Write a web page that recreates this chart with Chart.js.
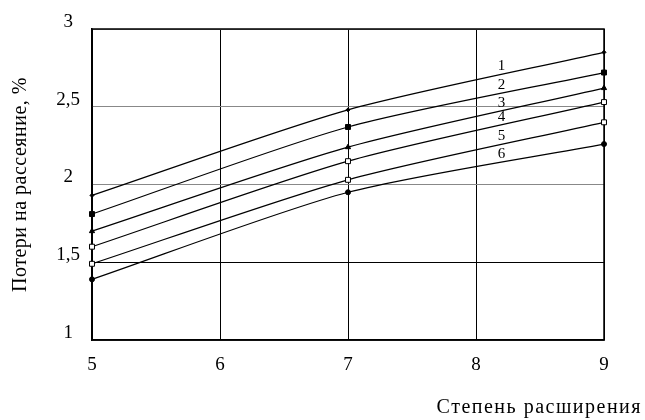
<!DOCTYPE html>
<html>
<head>
<meta charset="utf-8">
<script src="https://cdn.jsdelivr.net/npm/chart.js@4"></script>
<style>
  html, body { margin: 0; padding: 0; background: #fff; }
  #wrap { width: 645px; height: 420px; position: relative; }
</style>
</head>
<body>
<div id="wrap"><canvas id="loss-chart"></canvas></div>
<script>
// expansion ratio
const expansion = [5, 7, 9];
const seriesNames = ['1', '2', '3', '4', '5', '6'];
const loss1 = [1.93, 2.48, 2.85];
const loss2 = [1.81, 2.37, 2.72];
const loss3 = [1.70, 2.24, 2.62];
const loss4 = [1.60, 2.15, 2.53];
const loss5 = [1.49, 2.03, 2.40];
const loss6 = [1.39, 1.95, 2.26];
const yTicks = [1, 1.5, 2, 2.5, 3];
const xTicks = [5, 6, 7, 8, 9];

const allLoss = [loss1, loss2, loss3, loss4, loss5, loss6];
const markers = [
  { style: 'rectRot', r: 2, fill: '#000' },
  { style: 'rect', r: 3.5, fill: '#000' },
  { style: 'triangle', r: 3, fill: '#000' },
  { style: 'rect', r: 3.5, fill: '#fff' },
  { style: 'rect', r: 3.5, fill: '#fff' },
  { style: 'circle', r: 2.5, fill: '#000' }
];

const FONT = '"Liberation Serif", "Times New Roman", serif';

document.addEventListener('DOMContentLoaded', function() {
  const ctx = document.getElementById('loss-chart').getContext('2d');

  const datasets = allLoss.map(function(vals, i) {
    return {
      label: seriesNames[i],
      data: vals.map(function(v, j) { return { x: expansion[j], y: v }; }),
      borderColor: '#000',
      borderWidth: 1.2,
      tension: 0.25,
      pointStyle: markers[i].style,
      pointRadius: markers[i].r,
      pointBackgroundColor: markers[i].fill,
      pointBorderColor: '#000',
      pointBorderWidth: 1,
      clip: false
    };
  });

  // plot frame
  const framePlugin = {
    id: 'frame',
    beforeDatasetsDraw: function(chart) {
      const a = chart.chartArea, c = chart.ctx;
      c.save();
      c.strokeStyle = '#000';
      c.lineWidth = 1.5;
      c.strokeRect(a.left, a.top, a.right - a.left, a.bottom - a.top);
      c.restore();
    }
  };

  // numbers 1..6 over the lines, and the axis titles
  const labelsPlugin = {
    id: 'lineLabels',
    afterDraw: function(chart) {
      const c = chart.ctx;
      const xs = chart.scales.x, ys = chart.scales.y;
      c.save();
      c.fillStyle = '#000';
      c.font = '15px ' + FONT;
      c.textAlign = 'center';
      c.textBaseline = 'middle';
      const lx = 8.2;
      allLoss.forEach(function(vals, i) {
        const t = (lx - expansion[1]) / (expansion[2] - expansion[1]);
        const v = vals[1] + t * (vals[2] - vals[1]);
        c.fillText(seriesNames[i], xs.getPixelForValue(lx), ys.getPixelForValue(v) - 9);
      });

      c.font = '20px ' + FONT;
      c.textAlign = 'right';
      c.textBaseline = 'alphabetic';
      c.letterSpacing = '1.5px';
      c.fillText('Степень расширения', 642, 413);

      c.letterSpacing = '0.5px';
      c.textBaseline = 'middle';
      c.translate(21, (chart.chartArea.top + chart.chartArea.bottom) / 2);
      c.rotate(-Math.PI / 2);
      c.textAlign = 'center';
      c.fillText('Потери на рассеяние, %', 0, 0);
      c.restore();
    }
  };

  new Chart(ctx, {
    type: 'line',
    data: { datasets: datasets },
    plugins: [framePlugin, labelsPlugin],
    options: {
      responsive: true,
      maintainAspectRatio: false,
      animation: false,
      layout: { padding: { top: 29, right: 41, left: 0, bottom: 0 } },
      plugins: { legend: { display: false }, tooltip: { enabled: false } },
      scales: {
        x: {
          type: 'linear',
          min: 5,
          max: 9,
          afterBuildTicks: function(s) { s.ticks = xTicks.map(function(v) { return { value: v }; }); },
          afterFit: function(s) { s.height = 80; },
          grid: { color: '#000', lineWidth: 1, drawTicks: false },
          border: { color: '#000', width: 1.5 },
          ticks: {
            color: '#000',
            padding: 14,
            font: { family: FONT, size: 19 }
          }
        },
        y: {
          min: 1,
          max: 3,
          afterBuildTicks: function(s) { s.ticks = yTicks.map(function(v) { return { value: v }; }); },
          afterFit: function(s) { s.width = 92; },
          grid: {
            color: function(c) { return c.tick && c.tick.value === 1.5 ? '#000' : '#888'; },
            lineWidth: 1,
            drawTicks: false
          },
          border: { color: '#000', width: 1.5 },
          ticks: {
            color: '#000',
            padding: 12,
            crossAlign: 'center',
            labelOffset: -7,
            font: { family: FONT, size: 19 },
            callback: function(v) { return String(v).replace('.', ','); }
          }
        }
      }
    }
  });
});
</script>
</body>
</html>
